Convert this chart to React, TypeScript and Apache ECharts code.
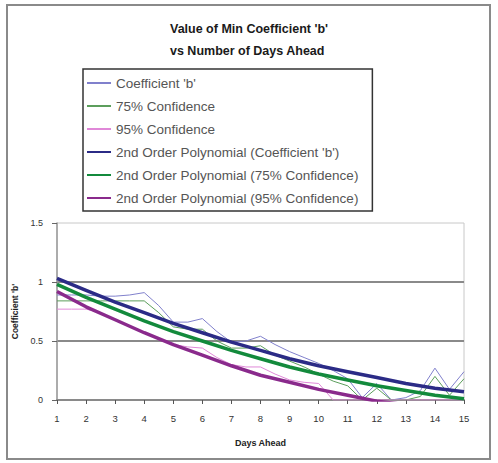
import React, { useEffect, useRef } from "react";
import * as echarts from "echarts";

const titleLines = ["Value of Min Coefficient 'b'", "vs Number of Days Ahead"];
const xAxisName = "Days Ahead";
const yAxisName = "Coefficient 'b'";

const seriesNames = [
  "Coefficient 'b'",
  "75% Confidence",
  "95% Confidence",
  "2nd Order Polynomial (Coefficient 'b')",
  "2nd Order Polynomial (75% Confidence)",
  "2nd Order Polynomial (95% Confidence)",
];

// half-day lead times for raw series
const halfDays = [1, 1.5, 2, 2.5, 3, 3.5, 4, 4.5, 5, 5.5, 6, 6.5, 7, 7.5, 8, 8.5, 9, 9.5, 10, 10.5, 11, 11.5, 12, 12.5, 13, 13.5, 14, 14.5, 15];
const coefB = [0.89, 0.89, 0.89, 0.88, 0.88, 0.89, 0.91, 0.8, 0.66, 0.66, 0.69, 0.58, 0.49, 0.5, 0.54, 0.47, 0.41, 0.36, 0.31, 0.25, 0.18, 0.02, 0.14, 0.0, 0.02, 0.08, 0.27, 0.09, 0.24];
const conf75 = [0.84, 0.84, 0.84, 0.84, 0.84, 0.84, 0.84, 0.74, 0.62, 0.6, 0.6, 0.5, 0.44, 0.44, 0.46, 0.38, 0.33, 0.28, 0.22, 0.16, 0.12, 0.0, 0.1, 0.0, 0.0, 0.03, 0.2, 0.04, 0.18];
const conf95 = [0.77, 0.77, 0.77, 0.74, 0.68, 0.62, 0.57, 0.52, 0.47, 0.45, 0.44, 0.36, 0.3, 0.28, 0.28, 0.22, 0.17, 0.15, 0.14, 0.0, 0.0, 0.0, 0.0, 0.0, 0.0, 0.0, 0.0, 0.0, 0.0];

// whole-day trend lines
const days = [1, 2, 3, 4, 5, 6, 7, 8, 9, 10, 11, 12, 13, 14, 15];
const polyB = [1.03, 0.93, 0.83, 0.74, 0.65, 0.57, 0.49, 0.42, 0.35, 0.29, 0.24, 0.19, 0.14, 0.1, 0.07];
const poly75 = [0.98, 0.87, 0.77, 0.67, 0.58, 0.5, 0.42, 0.35, 0.28, 0.22, 0.17, 0.12, 0.08, 0.04, 0.01];
const poly95 = [0.92, 0.79, 0.68, 0.57, 0.47, 0.38, 0.29, 0.21, 0.15, 0.09, 0.04, -0.01, -0.04, -0.07, -0.09];

const colors = ["#8080cc", "#5c9e5c", "#e088d8", "#2b2b86", "#138a3c", "#8a2a8c"];
const widths = [1, 1, 1, 3.5, 3.5, 3.5];

const FONT = "Liberation Sans, Arial, sans-serif";

export default function App() {
  const ref = useRef<HTMLDivElement>(null);
  useEffect(() => {
    if (!ref.current) return;
    const chart = echarts.init(ref.current, undefined, { renderer: "svg" });
    const raw = [coefB, conf75, conf95];
    const polys = [polyB, poly75, poly95];
    const series: any[] = [];
    raw.forEach((arr, i) => {
      series.push({
        name: seriesNames[i],
        type: "line",
        symbol: "none",
        data: halfDays.map((d, j) => [d, arr[j]]),
        lineStyle: { color: colors[i], width: widths[i] },
        itemStyle: { color: colors[i] },
        z: 2,
      });
    });
    polys.forEach((arr, k) => {
      const i = k + 3;
      series.push({
        name: seriesNames[i],
        type: "line",
        symbol: "none",
        data: days.map((d, j) => [d, arr[j]]),
        lineStyle: { color: colors[i], width: widths[i] },
        itemStyle: { color: colors[i] },
        z: 3,
      });
    });
    chart.setOption({
      animation: false,
      textStyle: { fontFamily: FONT },
      graphic: [
        {
          type: "rect",
          shape: { x: 7, y: 5, width: 483, height: 454 },
          style: { fill: "none", stroke: "#8a8a8a", lineWidth: 2 },
          silent: true,
        },
        {
          type: "text",
          left: "center",
          top: 18,
          style: {
            text: titleLines.join("\n"),
            fontFamily: FONT,
            fontSize: 12.5,
            fontWeight: "bold",
            fill: "#1a1a1a",
            align: "center",
            lineHeight: 22,
          },
          silent: true,
        },
      ],
      legend: {
        orient: "vertical",
        left: 83,
        top: 69,
        data: seriesNames,
        itemWidth: 24,
        itemHeight: 12,
        itemGap: 9,
        padding: [7, 14, 6, 3],
        borderColor: "#333",
        borderWidth: 1.5,
        itemStyle: { opacity: 0 },
        textStyle: { fontFamily: FONT, fontSize: 13.5, lineHeight: 12, color: "#555" },
      },
      grid: {
        left: 57,
        right: 34,
        top: 223,
        bottom: 63,
        show: true,
        borderColor: "#c8c8c8",
        borderWidth: 1,
      },
      xAxis: {
        type: "value",
        min: 1,
        max: 15,
        interval: 1,
        name: xAxisName,
        nameLocation: "middle",
        nameGap: 38,
        nameTextStyle: { fontFamily: FONT, fontSize: 9, fontWeight: "bold", color: "#222" },
        axisLine: { lineStyle: { color: "#8a8a8a", width: 2 } },
        axisTick: { show: true, length: 4, lineStyle: { color: "#555" } },
        axisLabel: { fontFamily: FONT, fontSize: 9.5, color: "#333", margin: 13 },
        splitLine: { show: false },
      },
      yAxis: {
        type: "value",
        min: 0,
        max: 1.5,
        interval: 0.5,
        name: yAxisName,
        nameLocation: "middle",
        nameGap: 38,
        nameRotate: 90,
        nameTextStyle: { fontFamily: FONT, fontSize: 8.5, fontWeight: "bold", color: "#222" },
        axisLine: { show: true, lineStyle: { color: "#9a9a9a", width: 1.5 } },
        axisTick: { show: true, length: 5, lineStyle: { color: "#666" } },
        axisLabel: { fontFamily: FONT, fontSize: 9, color: "#333", margin: 14 },
        splitLine: { show: true, showMaxLine: false, showMinLine: false, lineStyle: { color: "#8a8a8a", width: 2 } },
      },
      series,
    });
    return () => chart.dispose();
  }, []);
  return <div ref={ref} style={{ width: 498, height: 463, position: "absolute", left: 0, top: 0 }} />;
}
